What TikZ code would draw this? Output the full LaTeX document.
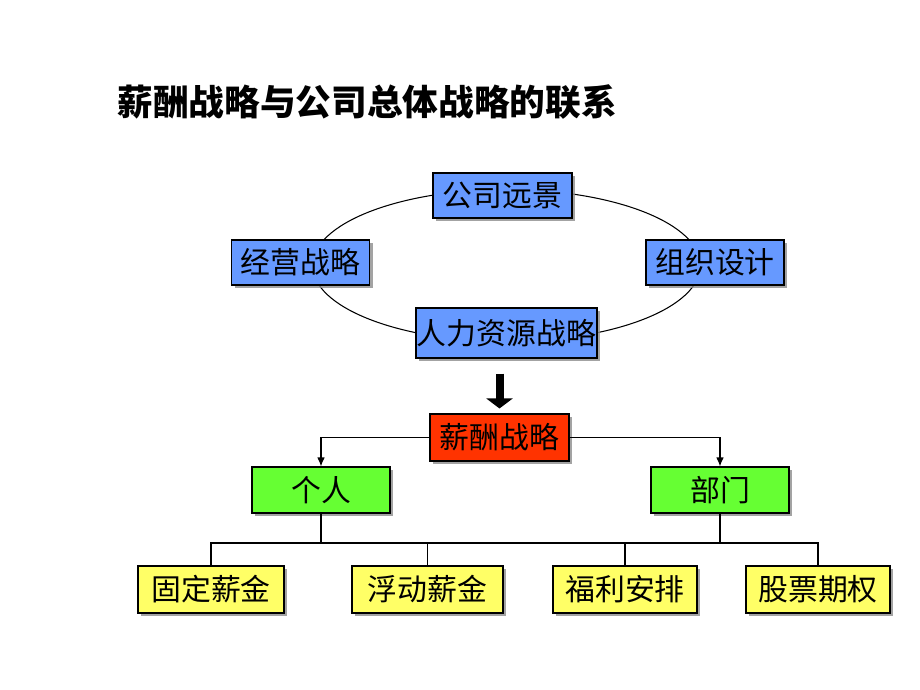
\documentclass[tikz,border=0pt]{standalone}
\usepackage{fontspec}
\setmainfont{Noto Sans CJK SC}
\usepackage{tikz}
\usetikzlibrary{arrows.meta,positioning,shapes.geometric,shadows}
\definecolor{RingBlue}{HTML}{6699FF}
\definecolor{PayRed}{HTML}{FF3300}
\definecolor{TeamGreen}{HTML}{66FF33}
\definecolor{ItemYellow}{HTML}{FFFF66}

\begin{document}
\begin{tikzpicture}[x=0.02cm, y=-0.02cm, every node/.style={font=\fontsize{17pt}{20pt}\selectfont, inner sep=0pt}, box/.style={draw=black, line width=0.6pt, minimum height=0.9cm, drop shadow={shadow xshift=0.065cm, shadow yshift=-0.065cm, fill=black!45, opacity=0.8}}, ringbox/.style={box, fill=RingBlue, minimum width=2.76cm}, itembox/.style={box, fill=ItemYellow, minimum width=2.92cm, minimum height=0.94cm}, link/.style={line width=0.6pt, draw=black}, arrow/.style={link, -{Latex[length=1.8mm, width=1.5mm]}}]
\fill[white] (0,0) rectangle (920,690);
\useasboundingbox (0,0) rectangle (920,690);
\node[anchor=west, font=\fontsize{20.3pt}{24pt}\selectfont\bfseries] (title) at (117,102) {薪酬战略与公司总体战略的联系};
% ring of strategies
\node[ellipse, link, minimum width=7.76cm, minimum height=3.04cm] (ring) at (506.5,265.5) {};
\node[ringbox, minimum width=2.78cm] (vision) at (502.5,195.5) {公司远景};
\node[ringbox] (ops) at (300.5,262.5) {经营战略};
\node[ringbox] (org) at (715,262.5) {组织设计};
\node[ringbox, minimum width=3.62cm, minimum height=1.0cm] (hr) at (506.5,333) {人力资源战略};
% pay tree
\node[box, fill=PayRed, minimum width=2.78cm, minimum height=0.94cm] (pay) at (499.5,437.5) {薪酬战略};
\node[box, fill=TeamGreen, minimum width=2.76cm, minimum height=0.92cm] (ind) at (321,490) {个人};
\node[box, fill=TeamGreen, minimum width=2.76cm, minimum height=0.92cm] (dept) at (720,490) {部门};
\node[itembox] (fixed) at (211,589.5) {固定薪金};
\node[itembox, minimum width=3.02cm] (float) at (427.5,589.5) {浮动薪金};
\node[itembox, minimum width=2.88cm] (benefit) at (625,589.5) {福利安排};
\node[itembox, minimum width=2.88cm] (stock) at (818,589.5) {股票期权};
\draw[line width=0.16cm, -{Triangle[length=0.2cm, width=0.52cm]}, shorten <=0.3cm, shorten >=0.1cm] (pay.north |- hr.south) -- (pay.north);
\draw[arrow] (pay.west) -| (ind.north);
\draw[arrow] (pay.east) -| (dept.north);
\coordinate (bus) at (0,543);
\draw[link] (fixed.north) -- (fixed.north |- bus) -- (stock.north |- bus) -- (stock.north);
\foreach \n in {float,benefit}{\draw[link] (\n.north) -- (\n.north |- bus);}
\foreach \n in {ind,dept}{\draw[link] (\n.south) -- (\n.south |- bus);}
\end{tikzpicture}
\end{document}
